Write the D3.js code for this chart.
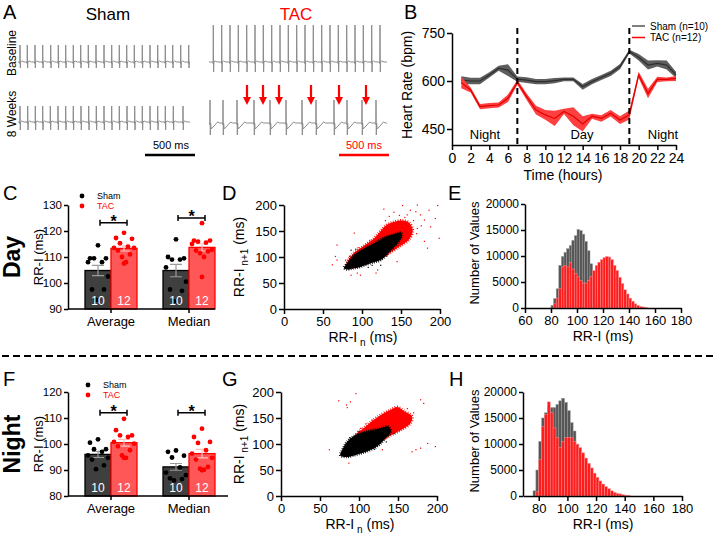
<!DOCTYPE html>
<html>
<head>
<meta charset="utf-8">
<script src="https://cdn.jsdelivr.net/npm/d3@7"></script>
<style>
  body { margin: 0; background: #fff; }
  svg text { font-family: "Liberation Sans", Arial, sans-serif; }
</style>
</head>
<body>
<svg id="fig" width="714" height="537"></svg>
<script>
// ---------------- data ----------------

// A: ECG strips, beat (R wave) times in ms from the start of each strip
const shamBaselineBeats = [20, 93, 170, 247, 327, 403, 477, 553, 627, 703, 780, 860, 937, 1013, 1087, 1163, 1243, 1320, 1397, 1473, 1547, 1627, 1707];
const shamWeek8Beats = [20, 97, 173, 247, 323, 400, 477, 553, 630, 707, 783, 860, 937, 1013, 1090, 1167, 1243, 1320, 1397, 1473, 1553, 1650];
const tacBaselineBeats = [43, 127, 210, 293, 377, 460, 543, 627, 710, 793, 877, 960, 1043, 1127, 1210, 1293, 1377, 1460, 1543, 1627, 1710];
const tacWeek8Beats = [10, 140, 280, 450, 610, 770, 930, 1070, 1250, 1380, 1530, 1670];
const tacArrowTimes = [380, 540, 700, 1020, 1300, 1570];

// B: hourly heart rate (bpm), mean and SEM
const hours = [1, 2, 3, 4, 5, 6, 7, 8, 9, 10, 11, 12, 13, 14, 15, 16, 17, 18, 19, 20, 21, 22, 23, 24];
const shamHR = [603, 600, 600, 619, 640, 634, 606, 603, 598, 598, 601, 605, 605, 582, 598, 611, 624, 645, 692, 674, 650, 655, 650, 619];
const shamHRsem = [12, 10, 10, 8, 8, 18, 8, 9, 8, 8, 8, 6, 6, 9, 8, 8, 8, 8, 6, 10, 14, 10, 14, 10];
const tacHR = [595, 572, 520, 523, 525, 546, 596, 551, 509, 494, 483, 505, 490, 466, 490, 483, 499, 478, 494, 619, 561, 605, 605, 608];
const tacHRsem = [18, 8, 8, 8, 8, 12, 8, 10, 14, 15, 24, 8, 28, 24, 8, 10, 10, 12, 14, 10, 15, 8, 6, 8];
const hourTicks = [0, 2, 4, 6, 8, 10, 12, 14, 16, 18, 20, 22, 24];
const hrTicks = [450, 600, 750];
const lightsChange = [7, 19];

// C / F: RR interval summary (ms)
const groups = ['Average', 'Median'];
const dayShamMean = [104.8, 104.8];
const dayShamSem = [2.0, 2.4];
const dayTacMean = [113.3, 113.7];
const dayTacSem = [1.0, 1.4];
const dayShamAvgPts = [114.5, 109.5, 109.5, 109.5, 108, 108, 102.5, 97.5, 97.5, 93.5];
const dayShamMedPts = [116.8, 110, 109.5, 109, 109, 106, 100.5, 97.5, 97, 93];
const dayTacAvgPts = [119.3, 117.3, 117, 115.3, 114, 113.5, 113.5, 112.5, 111, 110, 108, 107.5];
const dayTacMedPts = [123, 116.3, 116.3, 115.9, 115.5, 115, 112.8, 112.5, 112.2, 111.5, 110, 102.3];

const nightShamMean = [96.0, 91.2];
const nightShamSem = [1.2, 1.3];
const nightTacMean = [100.5, 96.3];
const nightTacSem = [1.3, 1.6];
const nightShamAvgPts = [101.8, 100.5, 98, 98, 97, 95.6, 94.7, 94, 91.8, 90.3];
const nightShamMedPts = [97.5, 97, 95.5, 94.8, 91, 89, 88, 86.8, 86.5, 86];
const nightTacAvgPts = [109.7, 105.3, 103.3, 103.3, 102.7, 100.8, 100.1, 99.1, 97.6, 95.6, 94.7, 94.7];
const nightTacMedPts = [105.9, 102.7, 100.8, 100.4, 97.6, 96.3, 94.7, 94, 91.2, 90.5, 90.1, 89.9];

// D / G: Poincare plots, outline of the dense clouds + isolated points [RR n, RR n+1]
const dayShamCloud = [[77, 79], [81, 88], [90, 104], [103, 117], [115, 126], [128, 137], [141, 144], [150, 147], [151, 140], [147, 129], [137, 113], [124, 94], [111, 88], [98, 81], [88, 78], [81, 76]];
const dayTacCloud = [[80, 85], [82, 93], [90, 108], [103, 122], [115, 135], [124, 150], [132, 162], [142, 168], [152, 170], [161, 165], [165, 150], [160, 133], [150, 122], [140, 112], [125, 100], [100, 86], [85, 80]];
const dayTacStray = [[128, 192], [141, 186], [152, 199], [171, 200], [186, 190], [197, 199], [199, 136], [68, 123], [66, 101], [62, 85], [98, 65], [118, 69], [86, 65], [94, 69], [184, 117], [188, 158], [180, 171], [169, 187], [194, 174], [145, 91], [162, 190], [175, 181], [135, 178], [90, 146], [68, 94], [79, 94], [180, 130], [171, 155], [158, 181], [155, 176], [166, 170], [148, 180], [130, 170], [176, 160], [120, 75], [84, 101], [95, 118], [110, 132], [170, 145]];
const dayShamStray = [[113, 84], [124, 84], [86, 113], [92, 115], [132, 102], [108, 80], [140, 118]];

const nightShamCloud = [[76, 78], [79, 90], [84, 103], [92, 114], [102, 121], [115, 126], [128, 131], [137, 134], [141, 124], [134, 111], [124, 96], [111, 86], [96, 79], [84, 75]];
const nightTacCloud = [[97, 119], [105, 129], [115, 142], [128, 156], [141, 166], [149, 171], [158, 163], [168, 153], [166, 140], [154, 127], [141, 117], [128, 108], [115, 104], [104, 108]];
const nightTacStray = [[96, 197], [74, 183], [85, 170], [89, 181], [84, 175], [179, 185], [183, 178], [168, 85], [179, 92], [188, 101], [198, 95], [173, 89], [62, 89], [87, 63], [130, 89], [151, 166], [117, 146], [102, 130], [170, 160], [162, 168], [109, 139]];
const nightShamStray = [[120, 90], [135, 104], [88, 112], [100, 124], [145, 120]];
const rrTicks = [0, 50, 100, 150, 200];

// E / H: RR interval histograms, 2 ms bins (bin start in ms, count)
const dayShamBins = [80, 82, 84, 86, 88, 90, 92, 94, 96, 98, 100, 102, 104, 106, 108, 110, 112, 114, 116, 118, 120];
const dayShamCounts = [500, 1800, 3700, 8200, 9900, 10700, 11400, 12000, 13000, 13900, 15100, 14900, 14200, 12800, 11000, 8500, 4700, 2500, 1200, 500, 200];
const dayTacBins = [82, 84, 86, 88, 90, 92, 94, 96, 98, 100, 102, 104, 106, 108, 110, 112, 114, 116, 118, 120, 122, 124, 126, 128, 130, 132, 134, 136, 138, 140, 142, 144, 146, 148, 150, 152];
const dayTacCounts = [800, 1900, 3700, 7900, 8200, 7900, 8800, 7500, 6600, 6000, 5300, 4800, 4800, 5300, 6100, 7200, 8200, 8800, 9300, 9700, 9900, 9800, 9300, 8200, 7200, 5900, 4700, 3500, 2700, 1900, 1300, 800, 500, 300, 200, 100];
const nightShamBins = [76, 78, 80, 82, 84, 86, 88, 90, 92, 94, 96, 98, 100, 102, 104, 106, 108, 110, 112, 114, 116, 118, 120];
const nightShamCounts = [1000, 5000, 10500, 15000, 16000, 17000, 17000, 17000, 17600, 18300, 18800, 18000, 16400, 14100, 12500, 10000, 7500, 5500, 3500, 2200, 1300, 700, 400];
const nightTacBins = [78, 80, 82, 84, 86, 88, 90, 92, 94, 96, 98, 100, 102, 104, 106, 108, 110, 112, 114, 116, 118, 120, 122, 124, 126, 128, 130, 132, 134, 136, 138, 140, 142];
const nightTacCounts = [800, 7000, 13400, 15700, 18100, 16000, 13100, 11200, 9300, 10500, 11200, 11300, 11200, 10500, 9900, 9300, 8300, 7300, 6300, 5400, 4400, 3600, 2900, 2300, 1800, 1400, 1000, 700, 500, 400, 250, 150, 80];
const countTicks = [0, 5000, 10000, 15000, 20000];
const dayRRTicks = [60, 80, 100, 120, 140, 160, 180];
const nightRRTicks = [80, 100, 120, 140, 160, 180];

// ---------------- drawing ----------------

const font = '"Liberation Sans", Arial, sans-serif';
const RED = '#ff0000';
const svg = d3.select('#fig');

function styleAxis(g, size) {
    g.attr('font-family', font);
    g.selectAll('path.domain').attr('stroke', '#000').attr('stroke-width', 1.5);
    g.selectAll('.tick line').attr('stroke', '#000').attr('stroke-width', 1.5);
    g.selectAll('.tick text').attr('font-size', size).attr('fill', '#000');
}

function label(x, y, txt, size, opts = {}) {
    const t = svg.append('text')
        .attr('x', x).attr('y', y)
        .attr('font-size', size)
        .attr('text-anchor', opts.anchor || 'middle')
        .attr('fill', opts.fill || '#000')
        .text(txt);
    if (opts.bold) t.attr('font-weight', 'bold');
    if (opts.rotate) t.attr('transform', `rotate(-90, ${x}, ${y})`);
    return t;
}

// panel letters
[['A', 3, 19], ['B', 404, 19], ['C', 3, 200], ['D', 222, 200], ['E', 448, 200], ['F', 3, 386], ['G', 222, 386], ['H', 449, 386]]
    .forEach(d => label(d[1], d[2], d[0], 20, { anchor: 'start' }));

// ----- A: ECG traces -----
label(108, 20, 'Sham', 17);
label(296, 20, 'TAC', 17, { fill: RED });
label(16, 53, 'Baseline', 12, { rotate: true });
label(16, 114, '8 Weeks', 12, { rotate: true });

const strips = [
    { beats: shamBaselineBeats, x0: 18, x1: 190, len: 1720, base: 62, up: 17, down: 6, tw: 1 },
    { beats: shamWeek8Beats, x0: 18, x1: 190, len: 1720, base: 122, up: 16, down: 8, tw: 1 },
    { beats: tacBaselineBeats, x0: 209, x1: 387, len: 1780, base: 62, up: 37, down: 10, tw: 1 },
    { beats: tacWeek8Beats, x0: 209, x1: 387, len: 1780, base: 123, up: 23, down: 12, tw: -6 }
];

strips.forEach(s => {
    const x = d3.scaleLinear().domain([0, s.len]).range([s.x0, s.x1]);
    let pts = [[0, 0], [s.len, 0]];
    s.beats.forEach(t => {
        pts.push([t - 6, 0], [t - 2, -1.5], [t, s.up], [t + 3, -s.down], [t + 6, 0]);
        if (s.tw < 0) pts.push([t + 12, s.tw], [t + 40, s.tw * 0.5], [t + 75, 1], [t + 95, 0]);
        else pts.push([t + 18, s.tw], [t + 40, 0]);
    });
    pts = pts.filter(p => p[0] >= 0 && p[0] <= s.len).sort((a, b) => a[0] - b[0]);
    svg.append('path')
        .datum(pts)
        .attr('d', d3.line().x(p => x(p[0])).y(p => s.base - p[1]))
        .attr('fill', 'none')
        .attr('stroke', '#8c8c8c')
        .attr('stroke-width', 1);
});

// arrows over the TAC 8 week trace
const xTacStrip = d3.scaleLinear().domain([0, 1780]).range([209, 387]);
tacArrowTimes.forEach(t => {
    const ax = xTacStrip(t);
    svg.append('line').attr('x1', ax).attr('x2', ax).attr('y1', 85).attr('y2', 98)
        .attr('stroke', RED).attr('stroke-width', 2.2);
    svg.append('path').attr('d', `M${ax - 4},97 L${ax + 4},97 L${ax},105 Z`).attr('fill', RED);
});

// scale bars
svg.append('line').attr('x1', 145).attr('x2', 195).attr('y1', 155).attr('y2', 155).attr('stroke', '#000').attr('stroke-width', 2.5);
label(171, 149, '500 ms', 11);
svg.append('line').attr('x1', 339).attr('x2', 389).attr('y1', 155).attr('y2', 155).attr('stroke', RED).attr('stroke-width', 2.5);
label(364, 149, '500 ms', 11, { fill: RED });

// ----- B: heart rate over 24 h -----
{
    const x = d3.scaleLinear().domain([0, 24]).range([452, 676]);
    const y = d3.scaleLinear().domain([400, 750]).range([145, 33]);

    const band = (m, s) => d3.area().x((d, i) => x(hours[i])).y0((d, i) => y(m[i] - s[i])).y1((d, i) => y(m[i] + s[i]));
    const line = m => d3.line().x((d, i) => x(hours[i])).y((d, i) => y(m[i]));

    svg.append('path').datum(hours).attr('d', band(shamHR, shamHRsem)).attr('fill', '#5e5e5e');
    svg.append('path').datum(hours).attr('d', line(shamHR)).attr('fill', 'none').attr('stroke', '#2e2e2e').attr('stroke-width', 1.2);
    svg.append('path').datum(hours).attr('d', band(tacHR, tacHRsem)).attr('fill', '#ff4040');
    svg.append('path').datum(hours).attr('d', line(tacHR)).attr('fill', 'none').attr('stroke', '#e00000').attr('stroke-width', 1.2);

    lightsChange.forEach(h => {
        svg.append('line').attr('x1', x(h)).attr('x2', x(h)).attr('y1', 28).attr('y2', 145)
            .attr('stroke', '#000').attr('stroke-width', 2).attr('stroke-dasharray', '6,4');
    });

    const gx = svg.append('g').attr('transform', 'translate(0,145)')
        .call(d3.axisBottom(x).tickValues(hourTicks).tickSize(5).tickPadding(3).tickSizeOuter(0));
    styleAxis(gx, 14);
    const gy = svg.append('g').attr('transform', 'translate(452,0)')
        .call(d3.axisLeft(y).tickValues(hrTicks).tickSize(5).tickPadding(2).tickSizeOuter(0));
    styleAxis(gy, 14);

    label(563, 180, 'Time (hours)', 14);
    label(412, 85, 'Heart Rate (bpm)', 14, { rotate: true });
    label(485, 139, 'Night', 13);
    label(582, 139, 'Day', 13);
    label(663, 139, 'Night', 13);

    // legend
    svg.append('line').attr('x1', 632).attr('x2', 645).attr('y1', 26).attr('y2', 26).attr('stroke', '#555').attr('stroke-width', 1.5);
    svg.append('line').attr('x1', 632).attr('x2', 645).attr('y1', 37.5).attr('y2', 37.5).attr('stroke', RED).attr('stroke-width', 1.5);
    label(650, 29.5, 'Sham (n=10)', 10, { anchor: 'start' });
    label(650, 41, 'TAC (n=12)', 10, { anchor: 'start' });
}

// ----- C / F: bar charts -----
const jitter = [0, -8, 8, -4, 4, -10, 10, -6, 6, -2, 2, 0];

function barPanel(p) {
    const y = d3.scaleLinear().domain(p.domain).range([p.y0, p.y0 - 104]);
    const xg = d3.scalePoint().domain(groups).range([111, 189]);
    const xs = d3.scaleBand().domain(['Sham', 'TAC']).range([-26, 26]);

    const series = [
        { key: 'Sham', mean: p.shamMean, sem: p.shamSem, pts: p.shamPts, fill: '#3f3f3f', stroke: '#000', dot: '#000', err: '#9a9a9a', n: '10' },
        { key: 'TAC', mean: p.tacMean, sem: p.tacSem, pts: p.tacPts, fill: '#ff5757', stroke: RED, dot: RED, err: '#ffc0c0', n: '12' }
    ];

    groups.forEach((grp, gi) => {
        series.forEach(s => {
            const bx = xg(grp) + xs(s.key);
            const cx = bx + xs.bandwidth() / 2;
            svg.append('rect')
                .attr('x', bx).attr('y', y(s.mean[gi]))
                .attr('width', xs.bandwidth()).attr('height', p.y0 - y(s.mean[gi]))
                .attr('fill', s.fill).attr('stroke', s.stroke).attr('stroke-width', 1.3);
            // error bar
            const lo = y(s.mean[gi] - s.sem[gi]), hi = y(s.mean[gi] + s.sem[gi]);
            svg.append('path')
                .attr('d', `M${cx},${lo}V${hi}M${cx - 6},${hi}H${cx + 6}M${cx - 6},${lo}H${cx + 6}`)
                .attr('stroke', s.err).attr('stroke-width', 1.2).attr('fill', 'none');
            // individual animals
            const vals = s.pts[gi];
            svg.selectAll(null).data(vals).enter().append('circle')
                .attr('cx', (d, i) => cx + jitter[i % jitter.length])
                .attr('cy', d => y(d))
                .attr('r', 2.4)
                .attr('fill', s.dot);
            label(cx, p.y0 - 4, s.n, 12, { fill: '#fff' });
        });
        // significance bracket
        const by = y(p.sig[gi]);
        const x1 = xg(grp) - 11, x2 = xg(grp) + 16;
        svg.append('path')
            .attr('d', `M${x1},${by - 3}V${by + 3}M${x1},${by}H${x2}M${x2},${by - 3}V${by + 3}`)
            .attr('stroke', '#000').attr('stroke-width', 1.5).attr('fill', 'none');
        label((x1 + x2) / 2, by + 4, '*', 16, { bold: true });
    });

    const gy = svg.append('g').attr('transform', 'translate(68,0)')
        .call(d3.axisLeft(y).tickValues(p.ticks).tickSize(4).tickPadding(2).tickSizeOuter(0));
    styleAxis(gy, 11.5);
    svg.append('line').attr('x1', 68).attr('x2', p.xEnd).attr('y1', p.y0).attr('y2', p.y0).attr('stroke', '#000').attr('stroke-width', 1.5);
    groups.forEach(grp => {
        svg.append('line').attr('x1', xg(grp)).attr('x2', xg(grp)).attr('y1', p.y0).attr('y2', p.y0 + 4).attr('stroke', '#000').attr('stroke-width', 1.5);
        label(xg(grp), p.y0 + 17, grp, 13);
    });

    // legend
    svg.append('circle').attr('cx', p.legX).attr('cy', p.legY).attr('r', 2.4).attr('fill', '#000');
    svg.append('circle').attr('cx', p.legX).attr('cy', p.legY + 10).attr('r', 2.4).attr('fill', RED);
    label(p.legX + 15, p.legY + 3, 'Sham', 9, { anchor: 'start' });
    label(p.legX + 15, p.legY + 13, 'TAC', 9, { anchor: 'start', fill: RED });

    label(43, p.y0 - 52, 'RR-I (ms)', 13, { rotate: true });
    label(20, p.y0 - 52, p.period, 23, { rotate: true, bold: true });
}

barPanel({
    domain: [90, 130], ticks: [90, 100, 110, 120, 130], y0: 309, xEnd: 215,
    shamMean: dayShamMean, shamSem: dayShamSem, tacMean: dayTacMean, tacSem: dayTacSem,
    shamPts: [dayShamAvgPts, dayShamMedPts], tacPts: [dayTacAvgPts, dayTacMedPts],
    sig: [123.2, 125], legX: 82, legY: 196, period: 'Day'
});
barPanel({
    domain: [80, 120], ticks: [80, 90, 100, 110, 120], y0: 496, xEnd: 228,
    shamMean: nightShamMean, shamSem: nightShamSem, tacMean: nightTacMean, tacSem: nightTacSem,
    shamPts: [nightShamAvgPts, nightShamMedPts], tacPts: [nightTacAvgPts, nightTacMedPts],
    sig: [112, 112], legX: 88, legY: 385, period: 'Night'
});

// ----- D / G: Poincare plots -----
function poincare(p) {
    const x = d3.scaleLinear().domain([0, 200]).range([p.x0, p.x0 + 156]);
    const y = d3.scaleLinear().domain([0, 200]).range([p.y0, p.y0 - 104]);
    const cloud = d3.line().x(d => x(d[0])).y(d => y(d[1])).curve(d3.curveCatmullRomClosed);

    svg.append('path').datum(p.tacCloud).attr('d', cloud).attr('fill', RED)
        .attr('stroke', RED).attr('stroke-width', 3).attr('stroke-dasharray', '0.8,1.6');
    svg.selectAll(null).data(p.tacStray).enter().append('rect')
        .attr('x', d => x(d[0]) - 0.6).attr('y', d => y(d[1]) - 0.6)
        .attr('width', 1.2).attr('height', 1.2).attr('fill', RED);
    svg.append('path').datum(p.shamCloud).attr('d', cloud).attr('fill', '#000')
        .attr('stroke', '#000').attr('stroke-width', 2.5).attr('stroke-dasharray', '0.8,1.4');
    svg.selectAll(null).data(p.shamStray).enter().append('rect')
        .attr('x', d => x(d[0]) - 0.6).attr('y', d => y(d[1]) - 0.6)
        .attr('width', 1.2).attr('height', 1.2).attr('fill', '#000');

    const gx = svg.append('g').attr('transform', `translate(0,${p.y0})`)
        .call(d3.axisBottom(x).tickValues(rrTicks).tickSize(5).tickPadding(3).tickSizeOuter(0));
    styleAxis(gx, 13);
    const gy = svg.append('g').attr('transform', `translate(${p.x0},0)`)
        .call(d3.axisLeft(y).tickValues(rrTicks).tickSize(5).tickPadding(2).tickSizeOuter(0));
    styleAxis(gy, 13);

    const xl = svg.append('text').attr('x', p.x0 + 79).attr('y', p.y0 + 33).attr('text-anchor', 'middle').attr('font-size', 14);
    xl.append('tspan').text('RR-I');
    xl.append('tspan').attr('font-size', 10).attr('dy', 4).text(' n');
    xl.append('tspan').attr('dy', -4).text(' (ms)');

    const yl = svg.append('text').attr('x', p.yLabX).attr('y', p.y0 - 52).attr('text-anchor', 'middle').attr('font-size', 14)
        .attr('transform', `rotate(-90, ${p.yLabX}, ${p.y0 - 52})`);
    yl.append('tspan').text('RR-I');
    yl.append('tspan').attr('font-size', 10).attr('dy', 4).text(' n+1');
    yl.append('tspan').attr('dy', -4).text(' (ms)');
}

poincare({ x0: 284, y0: 309, yLabX: 244, shamCloud: dayShamCloud, tacCloud: dayTacCloud, shamStray: dayShamStray, tacStray: dayTacStray });
poincare({ x0: 281, y0: 496, yLabX: 244, shamCloud: nightShamCloud, tacCloud: nightTacCloud, shamStray: nightShamStray, tacStray: nightTacStray });

// ----- E / H: histograms -----
function histogram(p) {
    const x = d3.scaleLinear().domain(p.xDomain).range([p.x0, p.x1]);
    const y = d3.scaleLinear().domain([0, 20000]).range([p.y0, p.y0 - 104]);

    const bars = (bins, counts, fill, stroke) => {
        svg.selectAll(null).data(bins).enter().append('rect')
            .attr('x', d => x(d))
            .attr('y', (d, i) => y(counts[i]))
            .attr('width', d => x(d + 2) - x(d))
            .attr('height', (d, i) => p.y0 - y(counts[i]))
            .attr('fill', fill).attr('stroke', stroke).attr('stroke-width', 0.5);
    };
    bars(p.shamBins, p.shamCounts, '#565656', '#9a9a9a');
    bars(p.tacBins, p.tacCounts, '#ff1c1c', '#ff9090');

    const gx = svg.append('g').attr('transform', `translate(0,${p.y0})`)
        .call(d3.axisBottom(x).tickValues(p.ticks).tickSize(5).tickPadding(3).tickSizeOuter(0));
    styleAxis(gx, 13);
    const gy = svg.append('g').attr('transform', `translate(${p.x0},0)`)
        .call(d3.axisLeft(y).tickValues(countTicks).tickFormat(d3.format('d')).tickSize(4).tickPadding(2).tickSizeOuter(0));
    styleAxis(gy, 12);

    label(603, p.y0 + 33, 'RR-I (ms)', 14);
    label(479, p.y0 - 55, 'Number of Values', 13, { rotate: true });
}

histogram({ xDomain: [60, 180], x0: 525, x1: 681, y0: 308, ticks: dayRRTicks,
    shamBins: dayShamBins, shamCounts: dayShamCounts, tacBins: dayTacBins, tacCounts: dayTacCounts });
histogram({ xDomain: [69, 180], x0: 523, x1: 682, y0: 496, ticks: nightRRTicks,
    shamBins: nightShamBins, shamCounts: nightShamCounts, tacBins: nightTacBins, tacCounts: nightTacCounts });

// day / night separator
svg.append('line').attr('x1', 2).attr('x2', 714).attr('y1', 356).attr('y2', 356)
    .attr('stroke', '#000').attr('stroke-width', 2).attr('stroke-dasharray', '7,4');
</script>
</body>
</html>
